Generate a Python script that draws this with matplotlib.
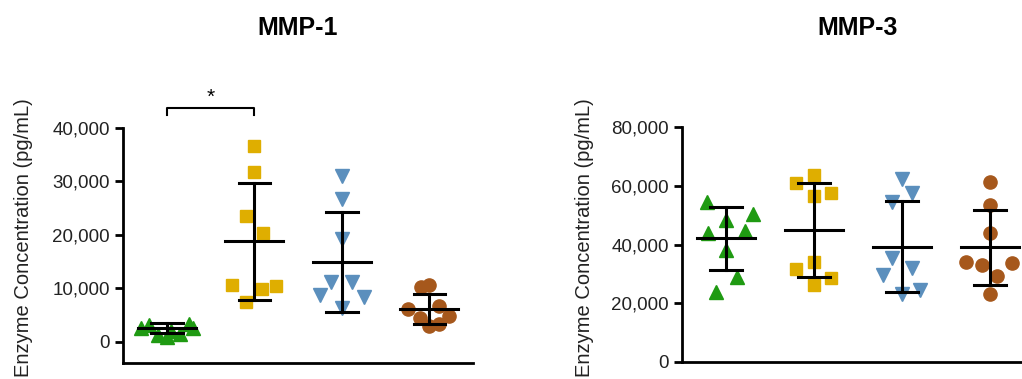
import matplotlib
matplotlib.use("Agg")
import matplotlib.pyplot as plt
from matplotlib.ticker import FuncFormatter

plt.rcParams['font.family'] = ['Liberation Sans', 'DejaVu Sans']

colors = ['#1f9a12', '#dfae00', '#5b8fbd', '#a6581c']
markers = ['^', 's', 'v', 'o']
msizes = [10, 9, 10, 9.5]

# MMP-1 values (pg/mL), per group
mmp1_vals = [
    [2500, 3100, 1300, 900, 2000, 1500, 3300, 2600],
    [36560, 31810, 23440, 20250, 10560, 9810, 10440, 7500],
    [31060, 26690, 19190, 11250, 11125, 8750, 8310, 6375],
    [10140, 10520, 6200, 6760, 4880, 4500, 3000, 3380],
]
mmp1_jit = [
    [-0.3, -0.2, -0.1, 0.0, 0.05, 0.15, 0.25, 0.3],
    [0.0, 0.0, -0.1, 0.1, -0.25, 0.09, 0.25, -0.09],
    [0.0, 0.0, 0.0, -0.12, 0.12, -0.25, 0.25, 0.0],
    [-0.09, 0.0, -0.24, 0.11, 0.23, -0.11, 0.0, 0.11],
]
mmp1_mean = [2625, 18750, 14875, 6060]
mmp1_sd = [935, 11030, 9310, 2815]

# MMP-3 values (pg/mL)
mmp3_vals = [
    [54600, 50400, 48400, 43800, 44700, 38100, 29000, 23900],
    [63700, 60900, 57700, 56600, 34100, 31500, 28500, 26200],
    [62200, 57500, 54300, 35300, 31900, 29600, 24500, 23300],
    [61200, 53300, 44000, 34100, 33000, 33600, 29400, 23300],
]
mmp3_jit = [
    [-0.22, 0.31, 0.0, -0.21, 0.22, 0.0, 0.12, -0.11],
    [0.0, -0.2, 0.19, 0.0, 0.0, -0.2, 0.19, 0.0],
    [0.0, 0.11, -0.11, -0.11, 0.11, -0.22, 0.21, 0.0],
    [0.0, 0.0, 0.0, -0.27, -0.09, 0.25, 0.08, 0.0],
]
mmp3_mean = [42100, 44950, 39300, 39000]
mmp3_sd = [10700, 16050, 15600, 12900]

fig = plt.figure(figsize=(10.22, 3.79), dpi=100)
W, H = 1022, 379
ax1 = fig.add_axes([123 / W, 16 / H, 350 / W, 235 / H])
ax2 = fig.add_axes([682 / W, 17 / H, 352 / W, 235 / H])

fmt = FuncFormatter(lambda v, p: f"{int(v):,}")


def panel(ax, vals, jit, means, sds, ylim, ticks):
    for i in range(4):
        x = i + 1
        xs = [x + j for j in jit[i]]
        ax.plot(xs, vals[i], linestyle='none', marker=markers[i], ms=msizes[i],
                color=colors[i], mec=colors[i], zorder=2)
        ax.plot([x - 0.33, x + 0.33], [means[i], means[i]], color='black', lw=2.2, zorder=3)
        ax.plot([x, x], [means[i] - sds[i], means[i] + sds[i]], color='black', lw=2.2, zorder=3)
        for s in (-1, 1):
            y = means[i] + s * sds[i]
            ax.plot([x - 0.18, x + 0.18], [y, y], color='black', lw=2.2, zorder=3)
    ax.set_xlim(0.5, 4.5)
    ax.set_ylim(*ylim)
    ax.set_yticks(ticks)
    ax.yaxis.set_major_formatter(fmt)
    ax.set_xticks([])
    for s in ('top', 'right'):
        ax.spines[s].set_visible(False)
    for s in ('left', 'bottom'):
        ax.spines[s].set_linewidth(2)
    ax.spines['left'].set_bounds(ylim[0], ticks[-1])
    ax.tick_params(axis='y', width=2, length=6, labelsize=13.5, labelcolor='#222222')


panel(ax1, mmp1_vals, mmp1_jit, mmp1_mean, mmp1_sd, (-4000, 40000), [0, 10000, 20000, 30000, 40000])
panel(ax2, mmp3_vals, mmp3_jit, mmp3_mean, mmp3_sd, (0, 80000), [0, 20000, 40000, 60000, 80000])

# significance bracket
ax1.plot([1, 1, 2, 2], [42400, 43800, 43800, 42400], color='black', lw=1.5, clip_on=False)
ax1.text(1.5, 44000, '*', ha='center', va='bottom', fontsize=15, clip_on=False)

fig.text(298 / W, 1 - 28 / H, 'MMP-1', ha='center', va='center', fontsize=18, fontweight='bold')
fig.text(858 / W, 1 - 28 / H, 'MMP-3', ha='center', va='center', fontsize=18, fontweight='bold')

for xc in (24, 584):
    fig.text(xc / W, 1 - 238 / H, 'Enzyme Concentration (pg/mL)', rotation=90,
             ha='center', va='center', fontsize=14.5, color='#222222')

fig.savefig('out.png', dpi=100)
